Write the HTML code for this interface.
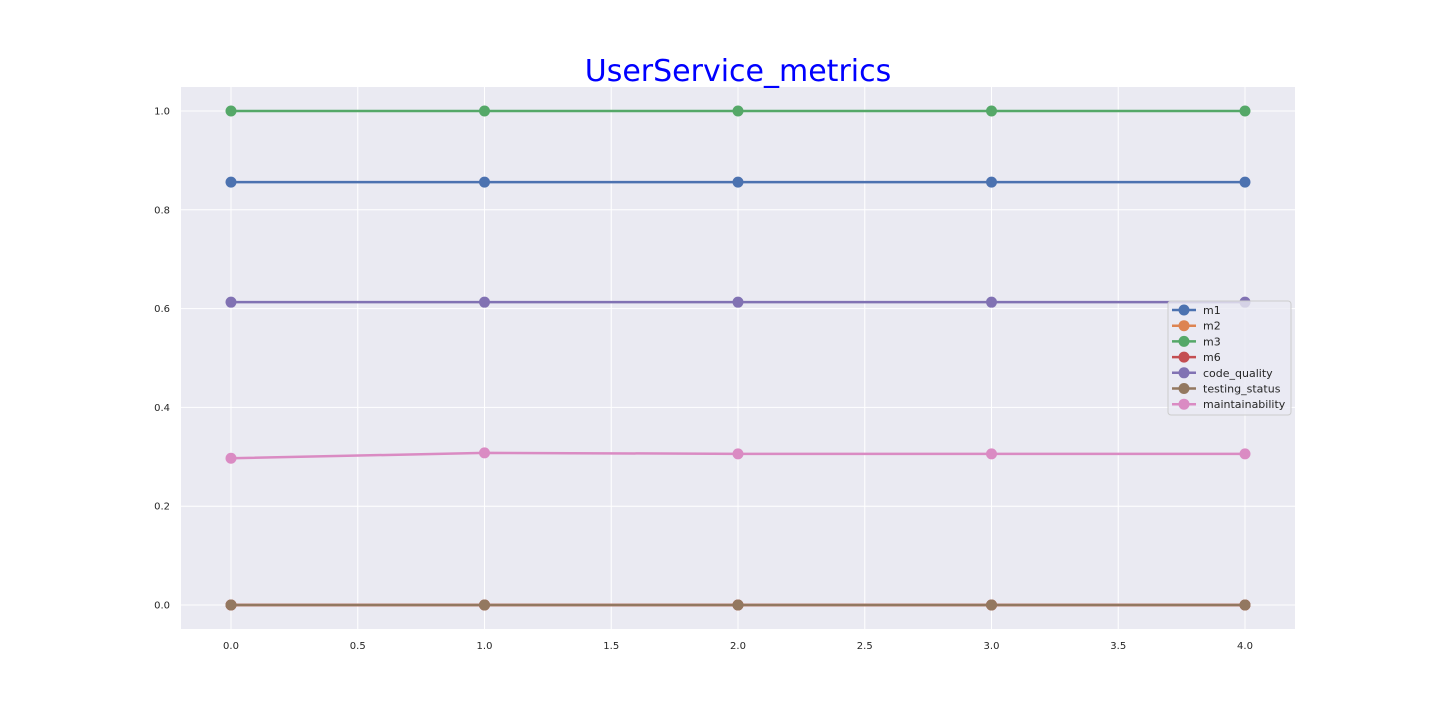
<!DOCTYPE html>
<html><head><meta charset="utf-8"><style>
body{margin:0;background:#fff;}
svg{display:block;font-family:"DejaVu Sans","Liberation Sans",sans-serif;}
</style></head><body>
<svg id="chart" width="1440" height="720">
<rect x="181" y="87" width="1114" height="542" fill="#eaeaf2"/>
<g id="grid"></g><g id="ticks"></g><g id="series"></g>
<text x="738" y="81" text-anchor="middle" font-size="30" fill="#0000ff">UserService_metrics</text>
<g id="legend"></g>
</svg>
<script>
const xCategories=[0,1,2,3,4];
const xTickLabels=["0.0","0.5","1.0","1.5","2.0","2.5","3.0","3.5","4.0"];
const yTickLabels=["0.0","0.2","0.4","0.6","0.8","1.0"];
const seriesNames=["m1","m2","m3","m6","code_quality","testing_status","maintainability"];
const seriesColors=["#4c72b0","#dd8452","#55a868","#c44e52","#8172b3","#937860","#da8bc3"];
const m1=[0.856,0.856,0.856,0.856,0.856];
const m2=[0,0,0,0,0];
const m3=[1,1,1,1,1];
const m6=[0,0,0,0,0];
const codeQuality=[0.613,0.613,0.613,0.613,0.613];
const testingStatus=[0,0,0,0,0];
const maintainability=[0.297,0.308,0.306,0.306,0.306];
const seriesValues=[m1,m2,m3,m6,codeQuality,testingStatus,maintainability];
const NS="http://www.w3.org/2000/svg";
const X=v=>231+v*253.5, Y=v=>605-v*494;
function mk(t,a,p){const e=document.createElementNS(NS,t);for(const k in a)e.setAttribute(k,a[k]);p.appendChild(e);return e;}
const grid=document.getElementById('grid'),ticks=document.getElementById('ticks');
xTickLabels.forEach(l=>{const x=X(parseFloat(l));
const g=mk('line',{x1:x,x2:x,y1:87,y2:629,stroke:'#fff','stroke-width':1},grid);


const t=mk('text',{x:x,y:649,'text-anchor':'middle','font-size':10,fill:'#262626'},ticks);t.textContent=l;

});
yTickLabels.forEach(l=>{const y=Y(parseFloat(l));
const g=mk('line',{x1:181,x2:1295,y1:y,y2:y,stroke:'#fff','stroke-width':1},grid);


const t=mk('text',{x:170,y:y+3.5,'text-anchor':'end','font-size':10,fill:'#262626'},ticks);t.textContent=l;

});
const sg=document.getElementById('series');
seriesValues.forEach((vals,i)=>{const g=mk('g',{},sg);


mk('polyline',{points:vals.map((v,j)=>X(xCategories[j])+','+Y(v)).join(' '),fill:'none',stroke:seriesColors[i],'stroke-width':2.5},g);
vals.forEach((v,j)=>{const c=mk('circle',{cx:X(xCategories[j]),cy:Y(v),r:5.5,fill:seriesColors[i]},g);

});});
const lg=document.getElementById('legend');
mk('rect',{x:1168,y:301,width:123,height:114,rx:3,fill:'#eaeaf2','fill-opacity':0.8,stroke:'#cccccc'},lg);
seriesNames.forEach((n,i)=>{const y=310+i*15.7;const g=mk('g',{},lg);


mk('line',{x1:1172,x2:1196,y1:y,y2:y,stroke:seriesColors[i],'stroke-width':2.5},g);
mk('circle',{cx:1184,cy:y,r:5.5,fill:seriesColors[i]},g);
const t=mk('text',{x:1203,y:y+4,'font-size':11,fill:'#262626'},g);t.textContent=n;});
</script>
</body></html>
